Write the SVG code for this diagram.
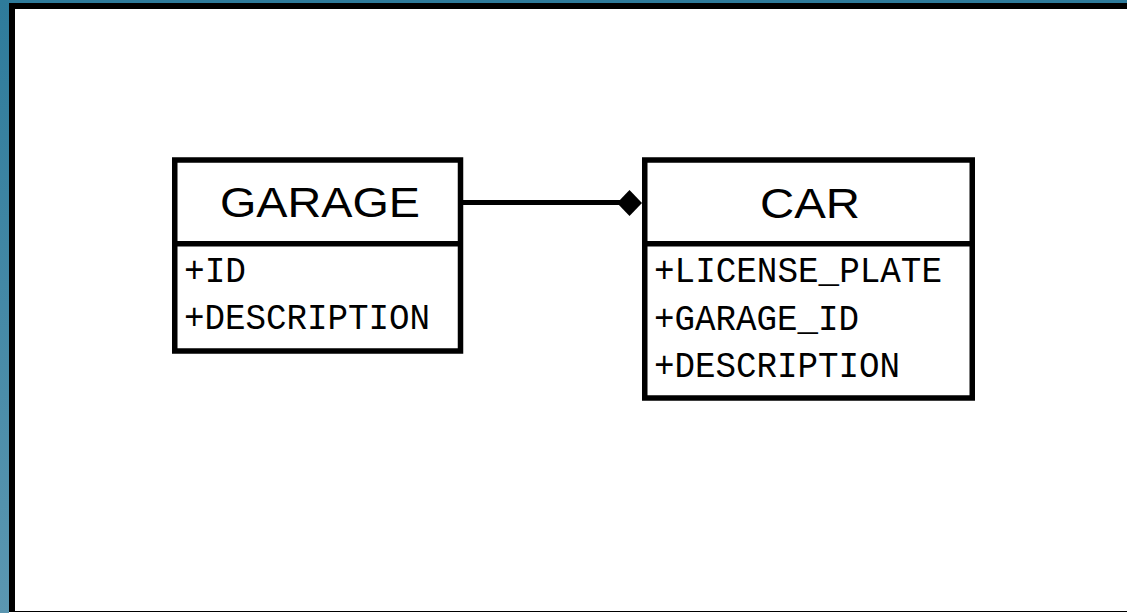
<svg xmlns="http://www.w3.org/2000/svg" width="1127" height="613" viewBox="0 0 1127 613">
<defs>
<linearGradient id="band" x1="0" y1="0" x2="0" y2="1">
<stop offset="0" stop-color="#2e7b9b"/>
<stop offset="1" stop-color="#5b97b1"/>
</linearGradient>
<style>
.box{fill:#fff;stroke:#000;stroke-width:5.5}
.div{stroke:#000;stroke-width:5.5}
.title{font-family:"Liberation Sans",Arial,sans-serif;font-size:42px;fill:#000;text-anchor:middle}
.attr{font-family:"Liberation Mono","Courier New",monospace;font-size:36px;fill:#000}
.conn{stroke:#000;stroke-width:5;fill:none}
</style>
</defs>
<rect x="0" y="0" width="1127" height="613" fill="#fff"/>
<rect x="0" y="0" width="9" height="613" fill="url(#band)"/>
<rect x="9" y="0" width="1118" height="3" fill="#2e7b9b"/>
<rect x="9" y="3" width="1118" height="6" fill="#000"/>
<rect x="9" y="3" width="6" height="609" fill="#000"/>
<rect x="9" y="611" width="1118" height="1" fill="#000"/>

<g id="connectors">
<line class="conn" x1="463" y1="202.5" x2="620" y2="202.5"/>
<polygon points="617,203 629.5,190 642,203 629.5,216" fill="#000"/>
</g>

<g id="garage">
<rect class="box" x="174.75" y="160" width="285.75" height="191"/>
<line class="div" x1="174.75" y1="243.75" x2="460.5" y2="243.75"/>
<text class="title" x="320" y="217" textLength="200" lengthAdjust="spacingAndGlyphs">GARAGE</text>
<text class="attr" x="184" y="282" textLength="62" lengthAdjust="spacingAndGlyphs">+ID</text>
<text class="attr" x="184" y="329" textLength="246" lengthAdjust="spacingAndGlyphs">+DESCRIPTION</text>
</g>

<g id="car">
<rect class="box" x="644.75" y="160" width="327.5" height="238"/>
<line class="div" x1="644.75" y1="243.75" x2="972.25" y2="243.75"/>
<text class="title" x="810" y="218" textLength="100" lengthAdjust="spacingAndGlyphs">CAR</text>
<text class="attr" x="654" y="282" textLength="288" lengthAdjust="spacingAndGlyphs">+LICENSE_PLATE</text>
<text class="attr" x="654" y="330" textLength="205" lengthAdjust="spacingAndGlyphs">+GARAGE_ID</text>
<text class="attr" x="654" y="377" textLength="246" lengthAdjust="spacingAndGlyphs">+DESCRIPTION</text>
</g>
</svg>
